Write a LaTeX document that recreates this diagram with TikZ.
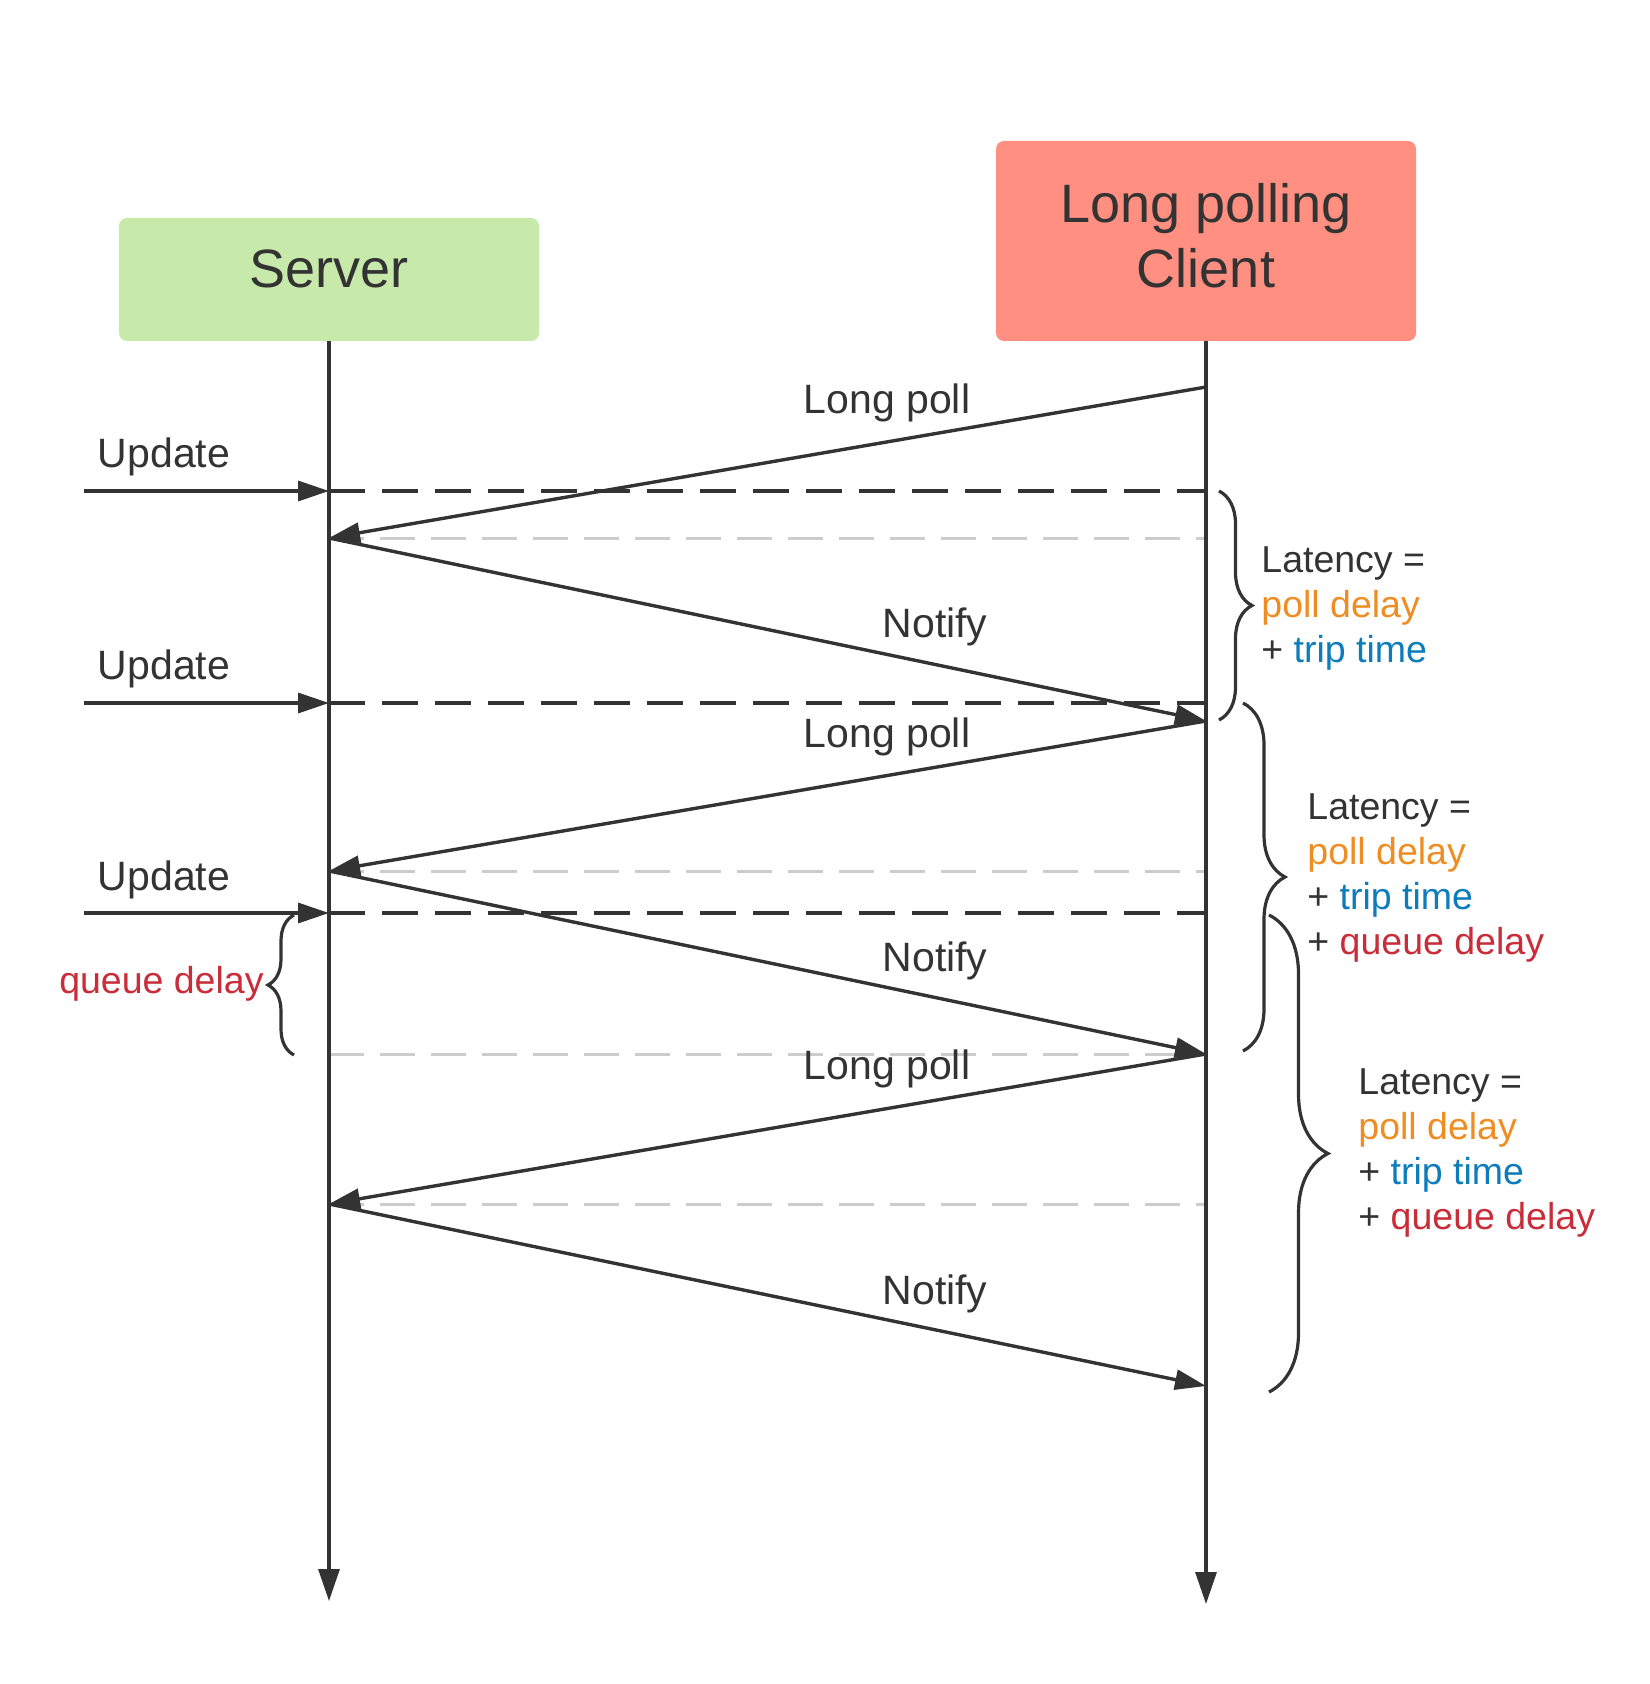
\documentclass[tikz,border=0pt]{standalone}
\usepackage{fontspec}
\setmainfont{Liberation Sans}
\usetikzlibrary{arrows.meta,decorations.pathreplacing}
\definecolor{ink}{HTML}{333333}
\definecolor{srvgreen}{HTML}{C7E9AA}
\definecolor{clired}{HTML}{FF8F80}
\definecolor{gapgray}{HTML}{CCCCCC}
\definecolor{pollc}{HTML}{EF8D22}
\definecolor{tripc}{HTML}{0C7CBA}
\definecolor{queuec}{HTML}{C92D39}
\begin{document}
\begin{tikzpicture}[x=0.5pt,y=-0.5pt,
  actor/.style={rounded corners=4pt,minimum width=210pt,text=ink,align=center,
    font=\fontsize{27}{32.4}\selectfont},
  life/.style={ink,line width=1.6pt,-{Triangle[length=16pt,width=10.5pt]}},
  msg/.style={ink,line width=1.7pt,-{Triangle[length=15.5pt,width=10pt]}},
  evline/.style={ink,line width=1.6pt,dash pattern=on 18pt off 8.5pt},
  gapline/.style={gapgray,line width=1.5pt,dash pattern=on 17.5pt off 8pt},
  lbl/.style={text=ink,font=\fontsize{20.5}{24.6}\selectfont},
  lat/.style={text=ink,align=left,anchor=west,inner sep=0pt,
    font=\fontsize{18.75}{22.5}\selectfont},
  brc/.style={ink,line width=1.6pt,decorate,decoration={brace,amplitude=#1}}]
\useasboundingbox (0,0) rectangle (1649,1684);
% actors
\node[actor,fill=srvgreen,minimum height=61.5pt] (srv) at (329,279.5) {};
\node[actor] (srvtxt) at (329,269) {Server};
\node[actor,fill=clired,minimum height=100pt] (cli) at (1206,241) {};
\node[actor] (clitxt) at (1206,236) {Long polling\\Client};
\coordinate (sEnd) at (329,1601);
\coordinate (cEnd) at (1206,1604);
% points on the lifelines
\coordinate (c1) at (1206,387);
\coordinate (s1) at (329,538);
\coordinate (c2) at (1206,721);
\coordinate (s2) at (329,871);
\coordinate (c3) at (1206,1054);
\coordinate (s3) at (329,1204);
\coordinate (c4) at (1206,1386);
\coordinate (u1) at (84,491);
\coordinate (u2) at (84,703);
\coordinate (u3) at (84,913);
% gray guides
\draw[gapline] (s1) -- (s1 -| cEnd);
\draw[gapline] (s2) -- (s2 -| cEnd);
\draw[gapline] (c3 -| sEnd) -- (c3);
\draw[gapline] (s3) -- (s3 -| cEnd);
% updates
\foreach \u in {u1,u2,u3} {
  \draw[msg] (\u) -- (\u -| sEnd);
  \draw[evline] (\u -| sEnd) -- (\u -| cEnd);
}
\node[lbl] (up1) at (164,457) {Update};
\node[lbl] (up2) at (164,669) {Update};
\node[lbl] (up3) at (164,880) {Update};
% polls and notifies
\draw[msg] (c1) -- (s1);
\draw[msg] (s1) -- (c2);
\draw[msg] (c2) -- (s2);
\draw[msg] (s2) -- (c3);
\draw[msg] (c3) -- (s3);
\draw[msg] (s3) -- (c4);
\node[lbl] (lp1) at (887,403) {Long poll};
\node[lbl] (nt1) at (935,627) {Notify};
\node[lbl] (lp2) at (887,737) {Long poll};
\node[lbl] (nt2) at (935,961) {Notify};
\node[lbl] (lp3) at (887,1069) {Long poll};
\node[lbl] (nt3) at (935,1294) {Notify};
% lifelines
\draw[life] (srv.south) -- (sEnd);
\draw[life] (cli.south) -- (cEnd);
% braces
\draw[brc=16.5pt] (1219,491) -- (1219,720);
\draw[brc=21pt] (1243,703) -- (1243,1051);
\draw[brc=29.5pt] (1269,915) -- (1269,1392);
\draw[brc=13pt] (294,1055) -- (294,915);
\node[lat] (lat1) at (1261,608) {Latency =\\\textcolor{pollc}{poll delay}\\+ \textcolor{tripc}{trip time}};
\node[lat] (lat2) at (1307,877.5) {Latency =\\\textcolor{pollc}{poll delay}\\+ \textcolor{tripc}{trip time}\\+ \textcolor{queuec}{queue delay}};
\node[lat] (lat3) at (1358,1152.5) {Latency =\\\textcolor{pollc}{poll delay}\\+ \textcolor{tripc}{trip time}\\+ \textcolor{queuec}{queue delay}};
\node[lat,anchor=east,text=queuec] (qd) at (264,984) {queue delay};
\end{tikzpicture}
\end{document}
